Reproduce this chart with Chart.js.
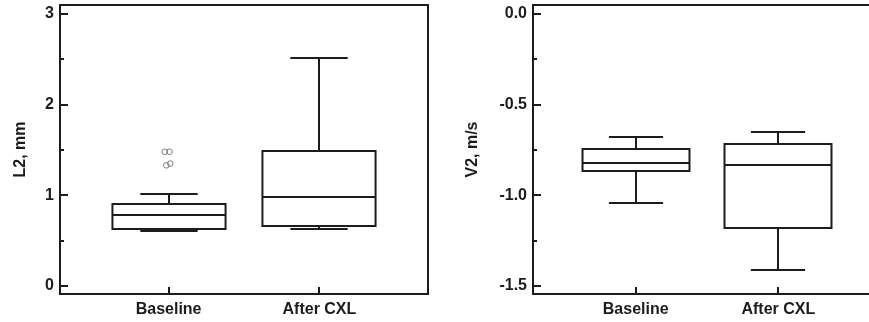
<!DOCTYPE html>
<html>
<head>
<meta charset="utf-8">
<script src="https://cdn.jsdelivr.net/npm/chart.js@4/dist/chart.umd.min.js"></script>
<style>
  html, body { margin: 0; padding: 0; background: #fff; }
  #wrap { position: relative; width: 869px; height: 322px; overflow: hidden; }
  #p1 { position: absolute; left: 0; top: 0; }
  #p2 { position: absolute; left: 440px; top: 0; }
</style>
</head>
<body>
<div id="wrap">
  <canvas id="p1" width="440" height="322"></canvas>
  <canvas id="p2" width="450" height="322"></canvas>
</div>
<script>
// ---------- data ----------
const categories = ['Baseline', 'After CXL'];
const categoryPositions = [1, 2];

// Panel 1: L2, mm
const l2WhiskerLow  = [0.60, 0.63];
const l2Q1          = [0.63, 0.66];
const l2Median      = [0.78, 0.98];
const l2Q3          = [0.90, 1.49];
const l2WhiskerHigh = [1.01, 2.52];
const l2OutlierValues = [1.48, 1.48, 1.33, 1.35];   // Baseline outliers
const l2OutlierGroup  = [0, 0, 0, 0];
const l2YTicks = [0, 1, 2, 3];

// Panel 2: V2, m/s
const v2WhiskerLow  = [-1.04, -1.41];
const v2Q1          = [-0.867, -1.18];
const v2Median      = [-0.82, -0.83];
const v2Q3          = [-0.744, -0.718];
const v2WhiskerHigh = [-0.68, -0.65];
const v2YTicks = [0, -0.5, -1.0, -1.5];

// ---------- drawing helpers ----------
const FONT = "'Liberation Sans', Arial, Helvetica, sans-serif";
const INK = '#1c1c1c';
const outlierJitter = [-0.025, 0.006, -0.015, 0.011];

const boxPlugin = {
  id: 'boxes',
  afterDatasetsDraw(chart, args, opts) {
    const { ctx, chartArea: a } = chart;
    const x = chart.scales.x, y = chart.scales.y;
    const st = opts.stats;
    const line = (x1, y1, x2, y2) => { ctx.beginPath(); ctx.moveTo(x1, y1); ctx.lineTo(x2, y2); ctx.stroke(); };
    ctx.save();
    ctx.strokeStyle = INK;
    ctx.lineWidth = 2;
    ctx.lineCap = 'butt';
    categoryPositions.forEach((p, i) => {
      const cx = Math.round(x.getPixelForValue(p));
      const hw = x.getPixelForValue(p + opts.boxWidth / 2) - x.getPixelForValue(p);
      const cw = x.getPixelForValue(p + opts.capWidth / 2) - x.getPixelForValue(p);
      const Y = v => Math.round(y.getPixelForValue(v));
      const yLo = Y(st.lo[i]), yQ1 = Y(st.q1[i]), yMed = Y(st.med[i]), yQ3 = Y(st.q3[i]), yHi = Y(st.hi[i]);
      // whiskers
      line(cx, yQ3, cx, yHi);
      line(cx - cw, yHi, cx + cw, yHi);
      line(cx, yQ1, cx, yLo);
      line(cx - cw, yLo, cx + cw, yLo);
      // box
      ctx.fillStyle = '#fff';
      ctx.fillRect(cx - hw, yQ3, 2 * hw, yQ1 - yQ3);
      ctx.strokeRect(cx - hw, yQ3, 2 * hw, yQ1 - yQ3);
      line(cx - hw, yMed, cx + hw, yMed);
    });
    // frame
    ctx.strokeRect(a.left, a.top, a.right - a.left, a.bottom - a.top);
    // inward ticks on y
    y.ticks.forEach(t => { const py = Math.round(y.getPixelForValue(t.value)); line(a.left, py, a.left + 8, py); });
    opts.minor.forEach(v => { const py = Math.round(y.getPixelForValue(v)); line(a.left, py, a.left + 4, py); });
    // inward ticks on x
    categoryPositions.forEach(p => { const px = Math.round(x.getPixelForValue(p)); line(px, a.bottom, px, a.bottom - 7); });
    ctx.restore();
  }
};

function makeChart(id, cfg) {
  const outliers = (cfg.outliers || []).map((v, k) => ({
    x: categoryPositions[cfg.outlierGroup[k]] + outlierJitter[k], y: v
  }));
  return new Chart(document.getElementById(id), {
    type: 'scatter',
    data: {
      datasets: [{
        data: outliers,
        pointRadius: 2.8,
        pointBorderWidth: 1,
        pointBorderColor: '#7a7a7a',
        pointBackgroundColor: 'rgba(255,255,255,0)'
      }]
    },
    options: {
      responsive: false,
      animation: false,
      events: [],
      layout: { padding: cfg.padding },
      plugins: {
        legend: { display: false },
        tooltip: { enabled: false },
        boxes: {
          stats: cfg.stats, boxWidth: 0.75, capWidth: 0.38, minor: cfg.minor
        }
      },
      scales: {
        x: {
          type: 'linear', min: 0.28, max: 2.72,
          grid: { display: false, drawTicks: false },
          border: { display: false },
          afterBuildTicks: s => { s.ticks = categoryPositions.map(v => ({ value: v })); },
          afterFit: s => { s.height = 28; s.paddingLeft = 0; s.paddingRight = 0; },
          ticks: {
            padding: 6,
            color: INK,
            font: { family: FONT, size: 16, weight: 'bold' },
            callback: v => categories[categoryPositions.indexOf(v)]
          }
        },
        y: {
          type: 'linear', min: cfg.yMin, max: cfg.yMax,
          grid: { display: false, drawTicks: false },
          border: { display: false },
          afterBuildTicks: s => { s.ticks = cfg.yTicks.map(v => ({ value: v })); },
          afterFit: s => { s.width = cfg.yWidth; s.paddingTop = 0; s.paddingBottom = 0; },
          ticks: {
            padding: 6,
            color: INK,
            font: { family: FONT, size: 16, weight: 'bold' },
            callback: cfg.tickFmt
          },
          title: {
            display: true, text: cfg.title, color: INK,
            padding: { top: cfg.titlePad, bottom: 0 },
            font: { family: FONT, size: 16, weight: 'bold' }
          }
        }
      }
    },
    plugins: [boxPlugin]
  });
}

makeChart('p1', {
  title: 'L2, mm',
  yMin: -0.09, yMax: 3.1, yTicks: l2YTicks, minor: [0.5, 1.5, 2.5],
  tickFmt: v => String(v),
  stats: { lo: l2WhiskerLow, q1: l2Q1, med: l2Median, q3: l2Q3, hi: l2WhiskerHigh },
  outliers: l2OutlierValues, outlierGroup: l2OutlierGroup,
  padding: { left: 0, right: 12, top: 5, bottom: 0 },
  yWidth: 60, titlePad: 11
});

makeChart('p2', {
  title: 'V2, m/s',
  yMin: -1.544, yMax: 0.05, yTicks: v2YTicks, minor: [-0.25, -0.75, -1.25],
  tickFmt: v => v.toFixed(1),
  stats: { lo: v2WhiskerLow, q1: v2Q1, med: v2Median, q3: v2Q3, hi: v2WhiskerHigh },
  outliers: [], outlierGroup: [],
  padding: { left: 13, right: 9, top: 5, bottom: 0 },
  yWidth: 80, titlePad: 10
});
</script>
</body>
</html>
